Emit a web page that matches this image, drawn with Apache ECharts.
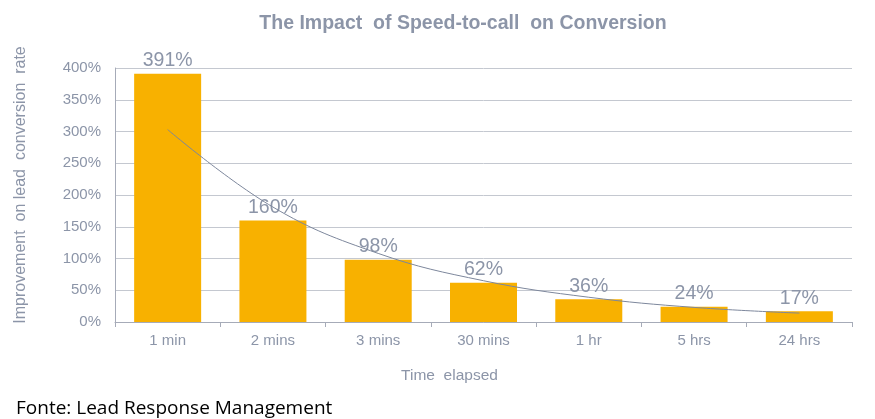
<!DOCTYPE html>
<html>
<head>
<meta charset="utf-8">
<script src="https://cdn.jsdelivr.net/npm/echarts@6/dist/echarts.min.js"></script>
<style>
  html, body { margin: 0; padding: 0; background: #fff; }
  #chart { width: 875px; height: 419px; }
</style>
</head>
<body>
<div id="chart"></div>
<script>
// data
const categories = ['1 min', '2 mins', '3 mins', '30 mins', '1 hr', '5 hrs', '24 hrs']
const improvement = [391, 160, 98, 62, 36, 24, 17]
// exponential trendline as drawn (approx.)
const trend = [303, 181, 108, 65, 39, 23, 14]
const yTicks = [0, 50, 100, 150, 200, 250, 300, 350, 400]

const grey = '#8c95a8'
const chart = echarts.init(document.getElementById('chart'))

const option = {
  animation: false,
  textStyle: { fontFamily: 'Liberation Sans, Arial, sans-serif' },
  title: [
    {
      text: 'The Impact  of Speed-to-call  on Conversion',
      left: 458,
      textAlign: 'center',
      top: 9,
      textStyle: { fontSize: 19.5, fontWeight: 'bold', color: grey }
    },
    {
      text: 'Fonte: Lead Response Management',
      left: 11,
      top: 394,
      textStyle: { fontSize: 19, fontWeight: 'normal', color: '#000', fontFamily: 'Open Sans, sans-serif' }
    }
  ],
  grid: { left: 115, right: 23, top: 68, bottom: 97 },
  xAxis: {
    type: 'category',
    data: categories,
    name: 'Time  elapsed',
    nameLocation: 'middle',
    nameGap: 46,
    nameTextStyle: { color: grey, fontSize: 15.5, padding: [0, 68, 0, 0] },
    axisLine: { lineStyle: { color: '#a6abb8' } },
    axisTick: { show: true, length: 5, lineStyle: { color: '#a6abb8' } },
    axisLabel: { color: grey, fontSize: 15, margin: 11 }
  },
  yAxis: {
    type: 'value',
    min: 0,
    max: yTicks[yTicks.length - 1],
    interval: 50,
    name: 'Improvement  on lead  conversion  rate',
    nameLocation: 'middle',
    nameGap: 86,
    nameTextStyle: { color: grey, fontSize: 16, padding: [0, 0, 0, 20] },
    axisLine: { show: true, lineStyle: { color: '#a6abb8' } },
    axisTick: { show: false },
    axisLabel: { color: grey, fontSize: 15, margin: 14, formatter: '{value}%' },
    splitLine: { lineStyle: { color: '#c4c8d0' } }
  },
  series: [
    {
      type: 'bar',
      data: improvement,
      barWidth: 67,
      itemStyle: { color: '#f8b100' },
      label: {
        show: true,
        position: 'top',
        distance: 3,
        formatter: '{c}%',
        color: grey,
        fontSize: 19.5
      },
      z: 2
    },
    {
      type: 'line',
      data: trend,
      smooth: 0.4,
      symbol: 'none',
      lineStyle: { color: '#7d879c', width: 1 },
      z: 3
    }
  ]
}

chart.setOption(option)
</script>
</body>
</html>
